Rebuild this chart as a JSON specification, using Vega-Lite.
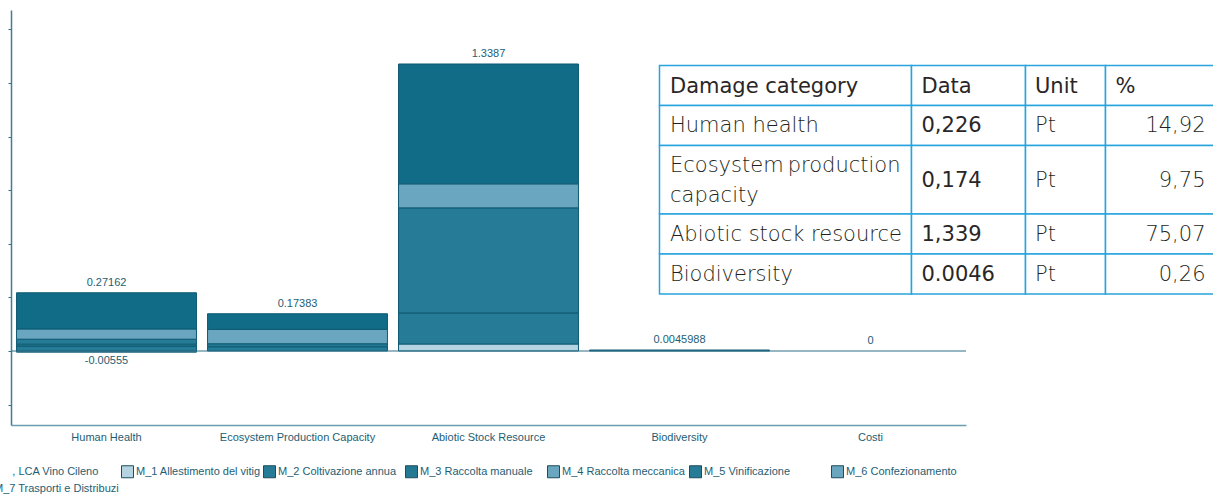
{
  "$schema": "https://vega.github.io/schema/vega-lite/v6.json",
  "width": 955,
  "height": 415,
  "autosize": {"type": "none"},
  "padding": {"left": 11, "top": 10, "right": 247, "bottom": 69},
  "background": "white",
  "config": {"view": {"stroke": null}},
  "datasets": {
    "impact": [
      {"category": "Human Health", "series": "M_1 Allestimento del vitig", "idx": 1, "value": -0.00555},
      {"category": "Human Health", "series": "M_2 Coltivazione annua", "idx": 2, "value": 0.023},
      {"category": "Human Health", "series": "M_3 Raccolta manuale", "idx": 3, "value": 0.009},
      {"category": "Human Health", "series": "M_5 Vinificazione", "idx": 5, "value": 0.023},
      {"category": "Human Health", "series": "M_6 Confezionamento", "idx": 6, "value": 0.048},
      {"category": "Human Health", "series": "M_7 Trasporti e Distribuzi", "idx": 7, "value": 0.16862},
      {"category": "Ecosystem Production Capacity", "series": "M_2 Coltivazione annua", "idx": 2, "value": 0.02},
      {"category": "Ecosystem Production Capacity", "series": "M_3 Raccolta manuale", "idx": 3, "value": 0.014},
      {"category": "Ecosystem Production Capacity", "series": "M_6 Confezionamento", "idx": 6, "value": 0.067},
      {"category": "Ecosystem Production Capacity", "series": "M_7 Trasporti e Distribuzi", "idx": 7, "value": 0.07283},
      {"category": "Abiotic Stock Resource", "series": "M_1 Allestimento del vitig", "idx": 1, "value": 0.0327},
      {"category": "Abiotic Stock Resource", "series": "M_2 Coltivazione annua", "idx": 2, "value": 0.145},
      {"category": "Abiotic Stock Resource", "series": "M_5 Vinificazione", "idx": 5, "value": 0.49},
      {"category": "Abiotic Stock Resource", "series": "M_6 Confezionamento", "idx": 6, "value": 0.112},
      {"category": "Abiotic Stock Resource", "series": "M_7 Trasporti e Distribuzi", "idx": 7, "value": 0.559},
      {"category": "Biodiversity", "series": "M_2 Coltivazione annua", "idx": 2, "value": 0.0045988}
    ],
    "totals": [
      {"category": "Human Health", "total": 0.27162, "label": "0.27162"},
      {"category": "Ecosystem Production Capacity", "total": 0.17383, "label": "0.17383"},
      {"category": "Abiotic Stock Resource", "total": 1.3387, "label": "1.3387"},
      {"category": "Biodiversity", "total": 0.0045988, "label": "0.0045988"},
      {"category": "Costi", "total": 0, "label": "0"}
    ],
    "negatives": [
      {"category": "Human Health", "total": -0.00555, "label": "-0.00555"}
    ],
    "cells": [
      {"x0": 0, "x1": 252, "y0": 0, "y1": 40}, {"x0": 252, "x1": 366, "y0": 0, "y1": 40}, {"x0": 366, "x1": 446, "y0": 0, "y1": 40}, {"x0": 446, "x1": 560, "y0": 0, "y1": 40},
      {"x0": 0, "x1": 252, "y0": 40, "y1": 80}, {"x0": 252, "x1": 366, "y0": 40, "y1": 80}, {"x0": 366, "x1": 446, "y0": 40, "y1": 80}, {"x0": 446, "x1": 560, "y0": 40, "y1": 80},
      {"x0": 0, "x1": 252, "y0": 80, "y1": 148.5}, {"x0": 252, "x1": 366, "y0": 80, "y1": 148.5}, {"x0": 366, "x1": 446, "y0": 80, "y1": 148.5}, {"x0": 446, "x1": 560, "y0": 80, "y1": 148.5},
      {"x0": 0, "x1": 252, "y0": 148.5, "y1": 188.5}, {"x0": 252, "x1": 366, "y0": 148.5, "y1": 188.5}, {"x0": 366, "x1": 446, "y0": 148.5, "y1": 188.5}, {"x0": 446, "x1": 560, "y0": 148.5, "y1": 188.5},
      {"x0": 0, "x1": 252, "y0": 188.5, "y1": 228.5}, {"x0": 252, "x1": 366, "y0": 188.5, "y1": 228.5}, {"x0": 366, "x1": 446, "y0": 188.5, "y1": 228.5}, {"x0": 446, "x1": 560, "y0": 188.5, "y1": 228.5}
    ],
    "lefttext": [
      {"t": "Damage category", "x": 10.5, "y": 21, "w": "n"},
      {"t": "Data", "x": 262, "y": 21, "w": "n"},
      {"t": "Unit", "x": 375.5, "y": 21, "w": "n"},
      {"t": "%", "x": 456, "y": 21, "w": "n"},
      {"t": "Human health", "x": 10.5, "y": 60, "w": "l"},
      {"t": "0,226", "x": 262, "y": 60, "w": "n"},
      {"t": "Pt", "x": 375.5, "y": 60, "w": "l"},
      {"t": "Ecosystem", "x": 10.5, "y": 100, "w": "l"},
      {"t": "capacity", "x": 10.5, "y": 130, "w": "l"},
      {"t": "0,174", "x": 262, "y": 115, "w": "n"},
      {"t": "Pt", "x": 375.5, "y": 115, "w": "l"},
      {"t": "Abiotic stock resource", "x": 10.5, "y": 169.5, "w": "l"},
      {"t": "1,339", "x": 262, "y": 169.5, "w": "n"},
      {"t": "Pt", "x": 375.5, "y": 169.5, "w": "l"},
      {"t": "Biodiversity", "x": 10.5, "y": 209, "w": "l"},
      {"t": "0.0046", "x": 262, "y": 209, "w": "n"},
      {"t": "Pt", "x": 375.5, "y": 209, "w": "l"}
    ],
    "righttext": [
      {"t": "production", "x": 241, "y": 100},
      {"t": "14,92", "x": 546, "y": 60},
      {"t": "9,75", "x": 546, "y": 115},
      {"t": "75,07", "x": 546, "y": 169.5},
      {"t": "0,26", "x": 546, "y": 209}
    ]
  },
  "layer": [
    {
      "layer": [
        {
          "data": {"name": "impact"},
          "mark": {"type": "bar", "stroke": "#0e5a72", "strokeWidth": 1},
          "encoding": {
            "x": {
              "field": "category", "type": "nominal",
              "scale": {"domain": ["Human Health", "Ecosystem Production Capacity", "Abiotic Stock Resource", "Biodiversity", "Costi"], "paddingInner": 0.058, "paddingOuter": 0.029},
              "axis": {"title": null, "ticks": false, "labelAngle": 0, "labelPadding": 6, "labelFont": "Liberation Sans", "labelFontSize": 11, "labelColor": "#1d5e74", "domainColor": "#6a9fb1", "domainWidth": 1.5, "grid": false}
            },
            "y": {
              "field": "value", "type": "quantitative", "stack": "zero",
              "scale": {"domain": [-0.3451, 1.5905], "nice": false, "zero": false},
              "axis": {"title": null, "labels": false, "values": [-0.25, 0, 0.25, 0.5, 0.75, 1, 1.25, 1.5], "tickSize": 3, "tickColor": "#2f6e84", "domainColor": "#3f7e93", "domainWidth": 1.5, "grid": false}
            },
            "color": {
              "field": "series", "type": "nominal",
              "scale": {
                "domain": ["LCA Vino Cileno", "M_1 Allestimento del vitig", "M_2 Coltivazione annua", "M_3 Raccolta manuale", "M_4 Raccolta meccanica", "M_5 Vinificazione", "M_6 Confezionamento", "M_7 Trasporti e Distribuzi"],
                "range": ["#0f6a86", "#b4d4e2", "#267b97", "#237893", "#6aa6bf", "#267b97", "#6aa6bf", "#106c87"]
              },
              "legend": {
                "title": null, "orient": "none", "legendX": -32, "legendY": 455, "direction": "horizontal", "columns": 7,
                "gridAlign": "all", "symbolType": "square", "symbolSize": 144, "symbolStrokeColor": "#1d4c5c", "symbolStrokeWidth": 1,
                "labelFont": "Liberation Sans", "labelFontSize": 11, "labelColor": "#1d5e74", "labelLimit": 126,
                "labelExpr": "indexof(datum.value, 'LCA') >= 0 ? '\u2060\u00a0\u00a0\u00a0\u00a0\u00a0\u00a0, LCA Vino Cileno' : datum.label",
                "columnPadding": 0, "rowPadding": 0, "labelOffset": 2, "padding": 0
              }
            },
            "order": {"field": "idx", "type": "quantitative"}
          }
        },
        {
          "data": {"name": "totals"},
          "mark": {"type": "text", "dy": -10, "baseline": "middle", "font": "Liberation Sans", "fontSize": 11, "color": "#1d5e74"},
          "encoding": {
            "x": {"field": "category", "type": "nominal"},
            "y": {"field": "total", "type": "quantitative"},
            "text": {"field": "label"}
          }
        },
        {
          "data": {"name": "negatives"},
          "mark": {"type": "text", "dy": 9, "baseline": "middle", "font": "Liberation Sans", "fontSize": 11, "color": "#1d5e74"},
          "encoding": {
            "x": {"field": "category", "type": "nominal"},
            "y": {"field": "total", "type": "quantitative"},
            "text": {"field": "label"}
          }
        },
        {
          "data": {"values": [{"v": 0}]},
          "mark": {"type": "rule", "color": "#2c6f85", "strokeWidth": 1},
          "encoding": {"y": {"field": "v", "type": "quantitative"}}
        }
      ]
    },
    {
      "layer": [
        {
          "data": {"name": "cells"},
          "mark": {"type": "rect", "fill": "white", "stroke": "#29a3dd", "strokeWidth": 1.5},
          "encoding": {
            "x": {"field": "x0", "type": "quantitative", "scale": {"domain": [-648.5, 306.5], "nice": false, "zero": false}, "axis": null},
            "x2": {"field": "x1"},
            "y": {"field": "y0", "type": "quantitative", "scale": {"domain": [-55.5, 359.5], "reverse": true, "nice": false, "zero": false}, "axis": null},
            "y2": {"field": "y1"}
          }
        },
        {
          "data": {"name": "lefttext"},
          "transform": [{"filter": "datum.w == 'n'"}],
          "mark": {"type": "text", "align": "left", "baseline": "middle", "font": "DejaVu Sans", "fontSize": 21, "fontWeight": "normal", "color": "#2a2627"},
          "encoding": {
            "x": {"field": "x", "type": "quantitative", "axis": null},
            "y": {"field": "y", "type": "quantitative", "axis": null},
            "text": {"field": "t"}
          }
        },
        {
          "data": {"name": "lefttext"},
          "transform": [{"filter": "datum.w == 'l'"}],
          "mark": {"type": "text", "align": "left", "baseline": "middle", "font": "DejaVu Sans", "fontSize": 21, "fontWeight": 200, "color": "#231f20"},
          "encoding": {
            "x": {"field": "x", "type": "quantitative", "axis": null},
            "y": {"field": "y", "type": "quantitative", "axis": null},
            "text": {"field": "t"}
          }
        },
        {
          "data": {"name": "righttext"},
          "mark": {"type": "text", "align": "right", "baseline": "middle", "font": "DejaVu Sans", "fontSize": 21, "fontWeight": 200, "color": "#231f20"},
          "encoding": {
            "x": {"field": "x", "type": "quantitative", "axis": null},
            "y": {"field": "y", "type": "quantitative", "axis": null},
            "text": {"field": "t"}
          }
        }
      ]
    }
  ],
  "resolve": {"scale": {"x": "independent", "y": "independent"}}
}
